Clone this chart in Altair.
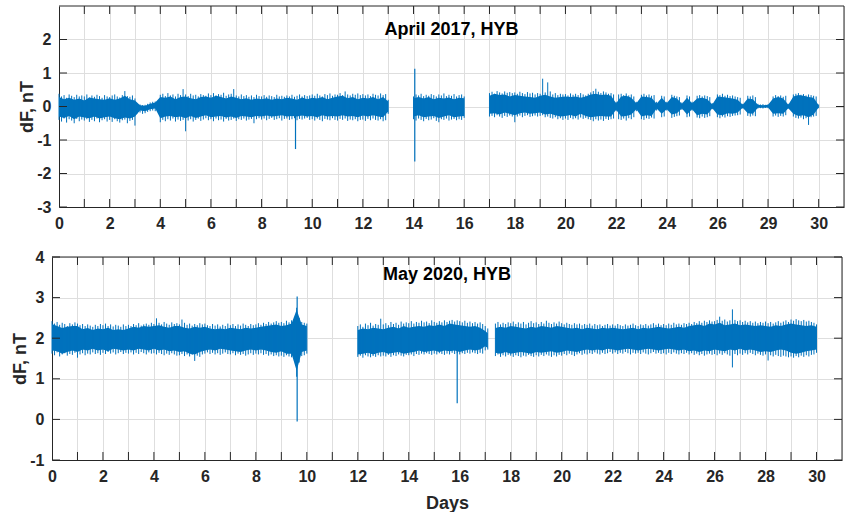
import altair as alt
import pandas as pd

BLUE = "#0072BD"
INK = "#262626"
GRID = "#dedede"
FONT = "Liberation Sans"
CORE_STEP = 0.2   # sampling step of the dense core envelope, days
PEAK_STEP = 0.1   # sampling step of the peak excursions, days

# ---------------- April 2017, HYB ----------------
# continuous recording intervals (days)
APR_SEGMENTS = [(0.0, 13.0), (14.0, 16.0), (17.0, 30.0)]
# dense core of dF (nT): upper / lower edge every 0.2 day inside each interval
APR_CORE_HI = [
    0.28, 0.22, 0.26, 0.20, 0.24, 0.18, 0.27, 0.24, 0.22, 0.20,
    0.25, 0.20, 0.24, 0.32, 0.22, 0.18, 0.04, 0.02, 0.08, 0.12,
    0.28, 0.26, 0.30, 0.22, 0.28, 0.30, 0.25, 0.22, 0.28, 0.30,
    0.26, 0.32, 0.28, 0.24, 0.30, 0.26, 0.22, 0.25, 0.20, 0.24,
    0.22, 0.25, 0.20, 0.24, 0.22, 0.26, 0.24, 0.20, 0.27, 0.22,
    0.26, 0.24, 0.28, 0.22, 0.26, 0.30, 0.32, 0.25, 0.28, 0.22,
    0.26, 0.24, 0.28, 0.22, 0.28, 0.15,
    0.25, 0.28, 0.24, 0.28, 0.22, 0.26, 0.24, 0.27, 0.22, 0.26, 0.25,
    0.32, 0.38, 0.34, 0.36, 0.30, 0.34, 0.32, 0.30, 0.28, 0.26,
    0.32, 0.35, 0.30, 0.26, 0.28, 0.30, 0.28, 0.30, 0.26, 0.30,
    0.36, 0.38, 0.34, 0.36, 0.32, 0.10, 0.30, 0.32, 0.26, 0.10,
    0.30, 0.28, 0.26, 0.08, 0.26, 0.10, 0.28, 0.24, 0.08, 0.26,
    0.10, 0.24, 0.26, 0.22, 0.06, 0.30, 0.28, 0.26, 0.24, 0.20,
    0.05, 0.24, 0.22, 0.05, 0.04, 0.05, 0.24, 0.28, 0.24, 0.05,
    0.30, 0.34, 0.32, 0.28, 0.26, 0.04,
]
APR_CORE_LO = [
    -0.30, -0.34, -0.28, -0.38, -0.30, -0.33, -0.35, -0.30, -0.36, -0.32,
    -0.30, -0.35, -0.38, -0.33, -0.36, -0.30, -0.12, -0.14, -0.08, -0.06,
    -0.35, -0.30, -0.28, -0.32, -0.30, -0.35, -0.28, -0.34, -0.30, -0.26,
    -0.32, -0.30, -0.28, -0.33, -0.30, -0.34, -0.28, -0.30, -0.32, -0.28,
    -0.30, -0.27, -0.30, -0.28, -0.26, -0.30, -0.28, -0.30, -0.27, -0.30,
    -0.28, -0.32, -0.26, -0.30, -0.28, -0.30, -0.26, -0.30, -0.28, -0.32,
    -0.27, -0.30, -0.26, -0.30, -0.32, -0.15,
    -0.30, -0.26, -0.32, -0.30, -0.28, -0.34, -0.30, -0.26, -0.32, -0.30, -0.28,
    -0.22, -0.20, -0.24, -0.18, -0.22, -0.26, -0.20, -0.18, -0.22, -0.20,
    -0.18, -0.24, -0.22, -0.26, -0.30, -0.28, -0.25, -0.30, -0.22, -0.28,
    -0.32, -0.30, -0.28, -0.30, -0.30, -0.10, -0.30, -0.28, -0.24, -0.08,
    -0.30, -0.26, -0.28, -0.06, -0.22, -0.08, -0.24, -0.20, -0.06, -0.24,
    -0.08, -0.26, -0.22, -0.24, -0.05, -0.24, -0.26, -0.20, -0.22, -0.18,
    -0.04, -0.20, -0.22, -0.04, -0.04, -0.03, -0.22, -0.20, -0.22, -0.05,
    -0.22, -0.28, -0.26, -0.32, -0.24, -0.03,
]
# peak excursions of dF (nT) every 0.1 day inside each interval
APR_PEAK_HI = [
    0.38, 0.30, 0.34, 0.26, 0.36, 0.32, 0.28, 0.35, 0.30, 0.33,
    0.30, 0.36, 0.27, 0.33, 0.29, 0.35, 0.31, 0.26, 0.34, 0.30,
    0.28, 0.33, 0.36, 0.30, 0.27, 0.34, 0.46, 0.31, 0.29, 0.33,
    0.24, 0.08, 0.06, 0.04, 0.05, 0.08, 0.12, 0.14, 0.15, 0.16,
    0.35, 0.38, 0.31, 0.40, 0.33, 0.36, 0.30, 0.38, 0.34, 0.52,
    0.36, 0.31, 0.38, 0.33, 0.35, 0.30, 0.37, 0.34, 0.32, 0.39,
    0.34, 0.40, 0.33, 0.37, 0.35, 0.41, 0.32, 0.36, 0.38, 0.52,
    0.33, 0.30, 0.36, 0.31, 0.34, 0.29, 0.33, 0.28, 0.35, 0.31,
    0.30, 0.34, 0.29, 0.33, 0.31, 0.28, 0.35, 0.30, 0.32, 0.29,
    0.33, 0.30, 0.35, 0.29, 0.32, 0.36, 0.30, 0.34, 0.31, 0.33,
    0.36, 0.32, 0.38, 0.33, 0.30, 0.37, 0.34, 0.39, 0.32, 0.36,
    0.35, 0.40, 0.34, 0.45, 0.36, 0.33, 0.38, 0.35, 0.39, 0.34,
    0.37, 0.33, 0.36, 0.31, 0.38, 0.35, 0.33, 0.39, 0.34, 0.37,
    0.20,
    0.30, 0.36, 0.33, 0.38, 0.31, 0.35, 0.32, 0.37, 0.34, 0.30,
    0.36, 0.33, 0.39, 0.31, 0.35, 0.32, 0.37, 0.30, 0.34, 0.36,
    0.30,
    0.40, 0.44, 0.38, 0.46, 0.42, 0.39, 0.45, 0.41, 0.43, 0.40,
    0.42, 0.38, 0.44, 0.40, 0.37, 0.43, 0.39, 0.41, 0.36, 0.40,
    0.38, 0.83, 0.42, 0.72, 0.45, 0.36, 0.40, 0.34, 0.38, 0.36,
    0.37, 0.33, 0.39, 0.35, 0.38, 0.34, 0.40, 0.36, 0.33, 0.38,
    0.42, 0.46, 0.53, 0.44, 0.40, 0.45, 0.42, 0.38, 0.40, 0.36,
    0.14, 0.36, 0.38, 0.34, 0.39, 0.33, 0.36, 0.30, 0.14, 0.12,
    0.35, 0.38, 0.33, 0.36, 0.32, 0.34, 0.14, 0.10, 0.32, 0.30,
    0.14, 0.12, 0.35, 0.32, 0.30, 0.28, 0.12, 0.10, 0.33, 0.30,
    0.14, 0.12, 0.32, 0.34, 0.30, 0.33, 0.31, 0.28, 0.10, 0.08,
    0.36, 0.34, 0.38, 0.32, 0.35, 0.31, 0.33, 0.30, 0.28, 0.26,
    0.08, 0.06, 0.32, 0.30, 0.33, 0.28, 0.08, 0.06, 0.07, 0.05,
    0.06, 0.05, 0.30, 0.34, 0.31, 0.33, 0.29, 0.32, 0.08, 0.06,
    0.36, 0.38, 0.40, 0.35, 0.37, 0.33, 0.36, 0.34, 0.32, 0.30,
    0.06,
]
APR_PEAK_LO = [
    -0.40, -0.45, -0.36, -0.48, -0.38, -0.42, -0.50, -0.37, -0.44, -0.39,
    -0.42, -0.38, -0.46, -0.40, -0.44, -0.36, -0.47, -0.41, -0.38, -0.45,
    -0.40, -0.46, -0.38, -0.44, -0.48, -0.41, -0.39, -0.50, -0.43, -0.40,
    -0.57, -0.20, -0.18, -0.22, -0.20, -0.16, -0.14, -0.12, -0.14, -0.16,
    -0.47, -0.40, -0.44, -0.38, -0.42, -0.36, -0.45, -0.39, -0.43, -0.40,
    -0.74, -0.42, -0.38, -0.45, -0.40, -0.36, -0.43, -0.39, -0.35, -0.41,
    -0.38, -0.44, -0.36, -0.41, -0.39, -0.45, -0.37, -0.42, -0.40, -0.36,
    -0.43, -0.38, -0.40, -0.36, -0.42, -0.39, -0.37, -0.50, -0.38, -0.35,
    -0.39, -0.36, -0.41, -0.37, -0.34, -0.40, -0.38, -0.35, -0.42, -0.37,
    -0.36, -0.40, -0.38, -0.35, -0.41, -0.37, -0.39, -0.36, -0.34, -0.40,
    -0.38, -0.42, -0.36, -0.40, -0.44, -0.37, -0.39, -0.41, -0.35, -0.40,
    -0.42, -0.37, -0.40, -0.36, -0.43, -0.39, -0.41, -0.38, -0.44, -0.40,
    -0.39, -0.43, -0.37, -0.41, -0.36, -0.40, -0.42, -0.38, -0.44, -0.41,
    -0.22,
    -0.38, -0.42, -0.36, -0.40, -0.44, -0.37, -0.41, -0.39, -0.35, -0.43,
    -0.47, -0.38, -0.40, -0.36, -0.42, -0.39, -0.37, -0.41, -0.38, -0.40,
    -0.34,
    -0.30, -0.28, -0.32, -0.26, -0.30, -0.34, -0.28, -0.31, -0.27, -0.30,
    -0.47, -0.30, -0.27, -0.32, -0.28, -0.26, -0.31, -0.29, -0.27, -0.30,
    -0.28, -0.26, -0.32, -0.30, -0.34, -0.36, -0.32, -0.38, -0.35, -0.40,
    -0.36, -0.40, -0.34, -0.38, -0.35, -0.39, -0.33, -0.37, -0.34, -0.38,
    -0.40, -0.44, -0.38, -0.42, -0.39, -0.43, -0.37, -0.40, -0.38, -0.36,
    -0.14, -0.38, -0.40, -0.36, -0.42, -0.35, -0.38, -0.32, -0.14, -0.12,
    -0.38, -0.40, -0.35, -0.37, -0.33, -0.36, -0.12, -0.10, -0.32, -0.30,
    -0.12, -0.10, -0.34, -0.31, -0.29, -0.27, -0.10, -0.08, -0.32, -0.30,
    -0.12, -0.10, -0.33, -0.35, -0.30, -0.34, -0.32, -0.29, -0.08, -0.07,
    -0.32, -0.35, -0.30, -0.33, -0.29, -0.31, -0.28, -0.27, -0.26, -0.24,
    -0.06, -0.05, -0.28, -0.30, -0.27, -0.29, -0.06, -0.05, -0.06, -0.04,
    -0.05, -0.04, -0.30, -0.27, -0.31, -0.28, -0.30, -0.26, -0.06, -0.05,
    -0.30, -0.34, -0.36, -0.33, -0.38, -0.35, -0.55, -0.32, -0.30, -0.28,
    -0.05,
]
# large isolated spikes: day, lower end, upper end (nT)
APR_SPIKE_DAY = [9.34, 14.05]
APR_SPIKE_LO = [-1.27, -1.64]
APR_SPIKE_HI = [0.0, 1.13]

# ---------------- May 2020, HYB ----------------
MAY_SEGMENTS = [(0.0, 10.0), (12.0, 17.1), (17.4, 30.0)]
MAY_CORE_HI = [
    2.35, 2.30, 2.25, 2.28, 2.30, 2.30, 2.22, 2.25, 2.20, 2.24,
    2.22, 2.26, 2.20, 2.22, 2.20, 2.24, 2.28, 2.26, 2.30, 2.28,
    2.30, 2.32, 2.28, 2.26, 2.30, 2.30, 2.26, 2.24, 2.28, 2.26,
    2.28, 2.24, 2.22, 2.24, 2.22, 2.26, 2.24, 2.22, 2.26, 2.24,
    2.26, 2.28, 2.30, 2.32, 2.34, 2.30, 2.32, 2.36, 2.70, 2.34, 2.30,
    2.20, 2.24, 2.22, 2.26, 2.24, 2.22, 2.26, 2.28, 2.24, 2.30,
    2.26, 2.28, 2.30, 2.28, 2.32, 2.30, 2.34, 2.30, 2.36, 2.34,
    2.32, 2.30, 2.28, 2.30, 2.26, 2.18, 2.12,
    2.25, 2.28, 2.26,
    2.30, 2.28, 2.26, 2.24, 2.28, 2.26, 2.30, 2.28, 2.26, 2.30,
    2.28, 2.26, 2.24, 2.26, 2.22, 2.26, 2.24, 2.22, 2.26, 2.24,
    2.26, 2.24, 2.22, 2.24, 2.26, 2.22, 2.26, 2.24, 2.26, 2.28,
    2.26, 2.24, 2.26, 2.28, 2.26, 2.30, 2.32, 2.34, 2.30, 2.36,
    2.34, 2.38, 2.32, 2.34, 2.36, 2.32, 2.34, 2.32, 2.30, 2.32,
    2.30, 2.28, 2.32, 2.30, 2.34, 2.36, 2.34, 2.32, 2.30, 2.32,
    2.28,
]
MAY_CORE_LO = [
    1.70, 1.68, 1.62, 1.66, 1.70, 1.66, 1.72, 1.70, 1.74, 1.70,
    1.72, 1.68, 1.74, 1.72, 1.70, 1.72, 1.70, 1.74, 1.72, 1.70,
    1.74, 1.70, 1.72, 1.68, 1.70, 1.66, 1.68, 1.62, 1.60, 1.66,
    1.70, 1.72, 1.70, 1.74, 1.72, 1.70, 1.68, 1.66, 1.70, 1.72,
    1.70, 1.72, 1.70, 1.66, 1.64, 1.68, 1.62, 1.62, 1.20, 1.66, 1.70,
    1.60, 1.62, 1.64, 1.60, 1.64, 1.66, 1.62, 1.64, 1.66, 1.62,
    1.64, 1.66, 1.70, 1.66, 1.68, 1.70, 1.66, 1.70, 1.68, 1.70,
    1.66, 1.70, 1.72, 1.70, 1.72, 1.80, 1.76,
    1.64, 1.62, 1.66,
    1.62, 1.64, 1.66, 1.64, 1.62, 1.66, 1.64, 1.66, 1.68, 1.64,
    1.66, 1.70, 1.68, 1.66, 1.70, 1.72, 1.70, 1.72, 1.70, 1.74,
    1.72, 1.70, 1.72, 1.74, 1.72, 1.70, 1.72, 1.74, 1.72, 1.70,
    1.72, 1.74, 1.72, 1.70, 1.72, 1.68, 1.70, 1.66, 1.70, 1.68,
    1.72, 1.70, 1.68, 1.72, 1.70, 1.74, 1.70, 1.72, 1.70, 1.66,
    1.68, 1.66, 1.70, 1.72, 1.70, 1.64, 1.62, 1.64, 1.68, 1.70,
    1.72,
]
MAY_PEAK_HI = [
    2.42, 2.36, 2.40, 2.33, 2.38, 2.35, 2.30, 2.37, 2.34, 2.39,
    2.36, 2.32, 2.35, 2.30, 2.34, 2.31, 2.28, 2.33, 2.30, 2.35,
    2.32, 2.36, 2.30, 2.34, 2.29, 2.33, 2.31, 2.28, 2.34, 2.30,
    2.33, 2.30, 2.35, 2.32, 2.37, 2.31, 2.34, 2.36, 2.33, 2.38,
    2.35, 2.49, 2.38, 2.34, 2.40, 2.36, 2.33, 2.39, 2.35, 2.37,
    2.34, 2.46, 2.38, 2.33, 2.36, 2.31, 2.35, 2.32, 2.37, 2.34,
    2.36, 2.32, 2.30, 2.35, 2.31, 2.34, 2.29, 2.33, 2.30, 2.36,
    2.32, 2.35, 2.30, 2.34, 2.31, 2.36, 2.33, 2.30, 2.35, 2.32,
    2.34, 2.37, 2.33, 2.38, 2.35, 2.40, 2.36, 2.39, 2.42, 2.38,
    2.40, 2.37, 2.43, 2.39, 2.44, 2.41, 2.75, 2.50, 2.40, 2.38,
    2.36,
    2.30, 2.34, 2.28, 2.36, 2.32, 2.38, 2.31, 2.35, 2.33, 2.48,
    2.34, 2.37, 2.32, 2.40, 2.35, 2.38, 2.33, 2.41, 2.36, 2.39,
    2.37, 2.42, 2.36, 2.40, 2.38, 2.43, 2.39, 2.41, 2.37, 2.44,
    2.40, 2.38, 2.42, 2.39, 2.44, 2.40, 2.43, 2.45, 2.41, 2.44,
    2.42, 2.39, 2.43, 2.38, 2.41, 2.37, 2.40, 2.36, 2.39, 2.35,
    2.30, 2.24,
    2.36, 2.40, 2.34, 2.38, 2.35, 2.39,
    2.37, 2.41, 2.35, 2.39, 2.36, 2.40, 2.34, 2.38, 2.42, 2.37,
    2.39, 2.35, 2.40, 2.36, 2.43, 2.38, 2.35, 2.39, 2.36, 2.41,
    2.37, 2.34, 2.38, 2.35, 2.33, 2.37, 2.34, 2.36, 2.32, 2.35,
    2.33, 2.36, 2.31, 2.35, 2.32, 2.34, 2.30, 2.33, 2.35, 2.31,
    2.34, 2.31, 2.35, 2.32, 2.30, 2.34, 2.31, 2.33, 2.36, 2.32,
    2.30, 2.34, 2.32, 2.35, 2.31, 2.34, 2.37, 2.33, 2.36, 2.32,
    2.35, 2.32, 2.36, 2.33, 2.38, 2.34, 2.36, 2.33, 2.37, 2.35,
    2.38, 2.35, 2.40, 2.37, 2.42, 2.38, 2.43, 2.40, 2.44, 2.41,
    2.42, 2.45, 2.53, 2.43, 2.46, 2.41, 2.44, 2.71, 2.45, 2.42,
    2.44, 2.40, 2.43, 2.39, 2.42, 2.38, 2.41, 2.37, 2.40, 2.38,
    2.41, 2.37, 2.40, 2.36, 2.39, 2.42, 2.38, 2.41, 2.44, 2.40,
    2.46, 2.43, 2.47, 2.44, 2.42, 2.45, 2.41, 2.43, 2.40, 2.38,
    2.34,
]
MAY_PEAK_LO = [
    1.62, 1.58, 1.65, 1.55, 1.60, 1.63, 1.57, 1.61, 1.59, 1.64,
    1.52, 1.60, 1.63, 1.58, 1.62, 1.60, 1.65, 1.61, 1.63, 1.59,
    1.64, 1.61, 1.66, 1.62, 1.65, 1.60, 1.63, 1.66, 1.61, 1.64,
    1.62, 1.65, 1.60, 1.64, 1.61, 1.66, 1.63, 1.60, 1.65, 1.62,
    1.63, 1.60, 1.64, 1.61, 1.58, 1.62, 1.59, 1.63, 1.60, 1.57,
    1.58, 1.61, 1.56, 1.60, 1.55, 1.59, 1.44, 1.57, 1.54, 1.60,
    1.62, 1.65, 1.61, 1.64, 1.60, 1.63, 1.59, 1.62, 1.65, 1.61,
    1.60, 1.63, 1.58, 1.62, 1.59, 1.61, 1.57, 1.60, 1.63, 1.59,
    1.62, 1.60, 1.63, 1.59, 1.61, 1.57, 1.60, 1.56, 1.58, 1.55,
    1.57, 1.54, 1.58, 1.55, 1.53, 1.56, 1.05, 1.40, 1.56, 1.58,
    1.62,
    1.54, 1.57, 1.52, 1.58, 1.55, 1.53, 1.56, 1.54, 1.58, 1.55,
    1.57, 1.55, 1.59, 1.54, 1.58, 1.56, 1.60, 1.57, 1.55, 1.59,
    1.58, 1.60, 1.56, 1.61, 1.59, 1.62, 1.60, 1.63, 1.61, 1.59,
    1.62, 1.60, 1.63, 1.61, 1.59, 1.62, 1.60, 1.64, 1.61, 1.63,
    1.60, 1.63, 1.61, 1.64, 1.62, 1.65, 1.63, 1.61, 1.64, 1.62,
    1.70, 1.72,
    1.56, 1.60, 1.54, 1.58, 1.55, 1.59,
    1.57, 1.54, 1.58, 1.56, 1.53, 1.57, 1.55, 1.59, 1.56, 1.54,
    1.58, 1.55, 1.59, 1.56, 1.60, 1.57, 1.54, 1.58, 1.55, 1.59,
    1.57, 1.61, 1.58, 1.62, 1.59, 1.56, 1.60, 1.63, 1.59, 1.62,
    1.60, 1.63, 1.61, 1.65, 1.62, 1.60, 1.64, 1.61, 1.63, 1.66,
    1.62, 1.65, 1.61, 1.64, 1.62, 1.66, 1.63, 1.60, 1.64, 1.62,
    1.64, 1.61, 1.65, 1.62, 1.60, 1.63, 1.66, 1.62, 1.64, 1.61,
    1.63, 1.60, 1.64, 1.61, 1.65, 1.62, 1.60, 1.63, 1.61, 1.64,
    1.60, 1.63, 1.59, 1.62, 1.58, 1.61, 1.57, 1.60, 1.62, 1.59,
    1.61, 1.58, 1.62, 1.59, 1.63, 1.60, 1.57, 1.28, 1.61, 1.58,
    1.62, 1.59, 1.63, 1.60, 1.64, 1.61, 1.58, 1.62, 1.59, 1.57,
    1.60, 1.45, 1.58, 1.55, 1.59, 1.56, 1.54, 1.57, 1.55, 1.53,
    1.55, 1.52, 1.56, 1.53, 1.57, 1.54, 1.58, 1.55, 1.59, 1.60,
    1.64,
]
MAY_SPIKE_DAY = [9.62, 15.9]
MAY_SPIKE_LO = [-0.05, 0.40]
MAY_SPIKE_HI = [3.03, 2.0]

X_DOMAIN = [0, 31]
X_TICKS = list(range(0, 32))
TICK_LEN = 8


def sample_days(start, end, step):
    n = int((end - start) / step + 1e-9)
    days = [round(start + i * step, 2) for i in range(n + 1)]
    if days[-1] < end - 1e-9:
        days.append(end)
    return days


def envelope_frame(segments, hi, lo, step):
    rows = []
    k = 0
    for s, (a, b) in enumerate(segments):
        for d in sample_days(a, b, step):
            rows.append({"day": d, "lo": lo[k], "hi": hi[k], "seg": s})
            k += 1
    assert k == len(hi) == len(lo), (k, len(hi), len(lo))
    return pd.DataFrame(rows)


def panel(core, peaks, spike_day, spike_lo, spike_hi, label, ydomain, yvalues,
          inset, w, h, label_expr, xtitle, title_y):
    """One axes box; the data area spans [inset, w] px of a view w px wide."""
    x = alt.X(
        "day:Q",
        scale=alt.Scale(domain=X_DOMAIN, range=[inset, w], nice=False, zero=False),
        axis=alt.Axis(values=X_TICKS, labelExpr=label_expr, title=xtitle,
                      tickSize=0, labelPadding=8, labelOverlap=False,
                      labelFlush=False, titlePadding=10),
    )
    y = alt.Y(
        "lo:Q",
        scale=alt.Scale(domain=ydomain, nice=False, zero=False),
        axis=alt.Axis(values=yvalues, labelExpr="toString(datum.value)",
                      title="dF, nT", tickSize=0, offset=-inset,
                      labelPadding=8, titlePadding=0, labelOverlap=False),
    )
    band = alt.Chart(core).mark_area(color=BLUE, opacity=1).encode(
        x=x, y=y, y2="hi:Q", detail="seg:N")
    peak_rules = alt.Chart(peaks).mark_rule(color=BLUE, strokeWidth=1).encode(
        x=x, y=y, y2="hi:Q")
    spikes = alt.Chart(pd.DataFrame(
        {"day": spike_day, "lo": spike_lo, "hi": spike_hi})
    ).mark_rule(color=BLUE, strokeWidth=1.2).encode(x=x, y=y, y2="hi:Q")

    edge = dict(color=INK, strokeWidth=1)
    top_edge = alt.Chart(pd.DataFrame({"day": [X_DOMAIN[0]], "day_end": [X_DOMAIN[1]]})
                         ).mark_rule(**edge).encode(x=x, x2="day_end:Q", y=alt.value(0))
    right_edge = alt.Chart(pd.DataFrame({"day": [X_DOMAIN[1]]})
                           ).mark_rule(**edge).encode(x=x, y=alt.value(0), y2=alt.value(h))

    xt = pd.DataFrame({"day": X_TICKS[1:-1]})
    yt = pd.DataFrame({"lo": yvalues})
    ticks = [
        alt.Chart(xt).mark_rule(**edge).encode(x=x, y=alt.value(h), y2=alt.value(h - TICK_LEN)),
        alt.Chart(xt).mark_rule(**edge).encode(x=x, y=alt.value(0), y2=alt.value(TICK_LEN)),
        alt.Chart(yt).mark_rule(**edge).encode(y=y, x=alt.value(inset), x2=alt.value(inset + TICK_LEN)),
        alt.Chart(yt).mark_rule(**edge).encode(y=y, x=alt.value(w), x2=alt.value(w - TICK_LEN)),
    ]
    heading = alt.Chart(pd.DataFrame({"t": [label]})).mark_text(
        font=FONT, fontSize=18, fontWeight="bold", color="#000000", baseline="middle"
    ).encode(text="t:N", x=alt.value((inset + w) / 2), y=alt.value(title_y))
    return alt.layer(band, peak_rules, spikes, top_edge, right_edge, *ticks, heading
                     ).properties(width=w, height=h)


apr_core = envelope_frame(APR_SEGMENTS, APR_CORE_HI, APR_CORE_LO, CORE_STEP)
apr_peak = envelope_frame(APR_SEGMENTS, APR_PEAK_HI, APR_PEAK_LO, PEAK_STEP)
may_core = envelope_frame(MAY_SEGMENTS, MAY_CORE_HI, MAY_CORE_LO, CORE_STEP)
may_peak = envelope_frame(MAY_SEGMENTS, MAY_PEAK_HI, MAY_PEAK_LO, PEAK_STEP)

# the upper axes box starts 7 px further right than the lower one
top = panel(apr_core, apr_peak, APR_SPIKE_DAY, APR_SPIKE_LO, APR_SPIKE_HI,
            "April 2017, HYB", [-3, 3], [-3, -2, -1, 0, 1, 2], 7, 792, 201,
            "datum.value % 2 == 0 ? (datum.value == 28 ? '29' : datum.label) : ''",
            None, 24)
bottom = panel(may_core, may_peak, MAY_SPIKE_DAY, MAY_SPIKE_LO, MAY_SPIKE_HI,
               "May 2020, HYB", [-1, 4], [-1, 0, 1, 2, 3, 4], 0, 790, 203,
               "datum.value % 2 == 0 && datum.value <= 30 ? datum.label : ''",
               "Days", 18)

chart = alt.vconcat(top, bottom, spacing=18).properties(
    padding={"left": 11, "top": 5, "right": 0, "bottom": 0},
    background="white",
).configure_view(
    strokeWidth=0
).configure_axis(
    labelFont=FONT, labelFontSize=16, labelFontWeight="bold", labelColor=INK,
    titleFont=FONT, titleFontSize=18, titleFontWeight="bold", titleColor=INK,
    domainColor=INK, domainWidth=1, gridColor=GRID, gridWidth=1,
)

chart.save("out.html", embed_options={"renderer": "svg", "actions": False})
